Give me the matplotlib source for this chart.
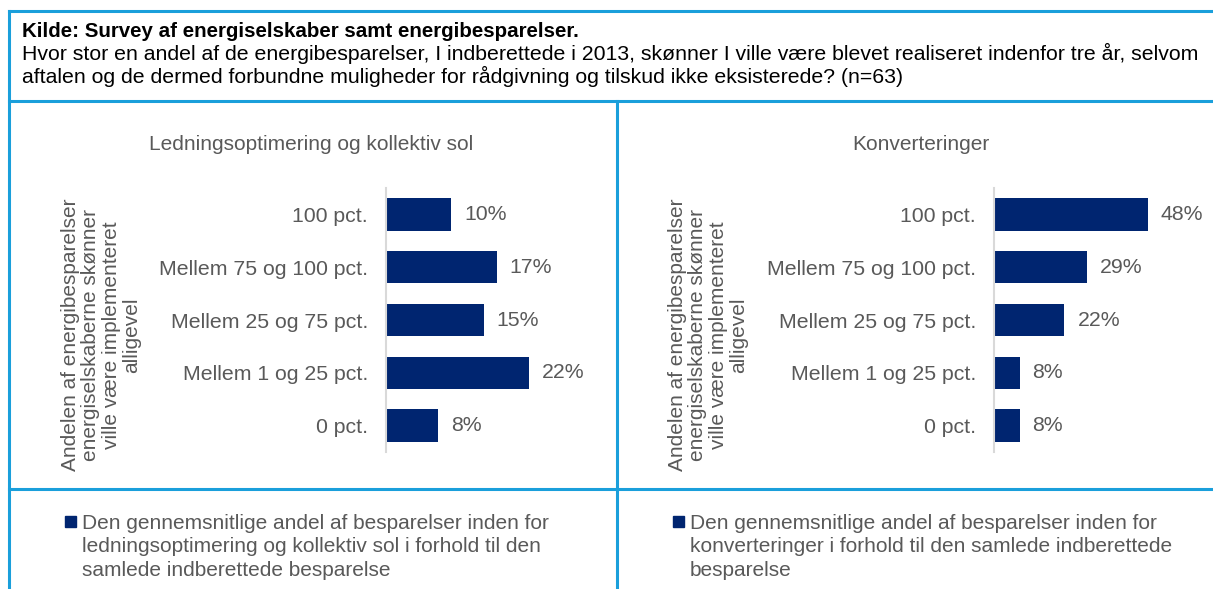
import matplotlib
matplotlib.use("Agg")
from matplotlib import pyplot as plt
from matplotlib.lines import Line2D
from matplotlib.patches import Rectangle

plt.rcParams['font.family'] = ['Liberation Sans', 'DejaVu Sans']

W, H = 1213, 589
BLUE = "#1a9fdb"
BAR = "#002570"
GREY = "#595959"

categories = ["100 pct.", "Mellem 75 og 100 pct.", "Mellem 25 og 75 pct.",
              "Mellem 1 og 25 pct.", "0 pct."]
ledning_values = [10, 17, 15, 22, 8]
konvert_values = [48, 29, 22, 8, 8]

header_lines = ["Hvor stor en andel af de energibesparelser, I indberettede i 2013, skønner I ville være blevet realiseret indenfor tre år, selvom",
                "aftalen og de dermed forbundne muligheder for rådgivning og tilskud ikke eksisterede? (n=63)"]
header_bold = "Kilde: Survey af energiselskaber samt energibesparelser."
ylabel = "Andelen af energibesparelser\nenergiselskaberne skønner\nville være implementeret\nalligevel"
titles = ["Ledningsoptimering og kollektiv sol", "Konverteringer"]
legends = ["Den gennemsnitlige andel af besparelser inden for\nledningsoptimering og kollektiv sol i forhold til den\nsamlede indberettede besparelse",
           "Den gennemsnitlige andel af besparelser inden for\nkonverteringer i forhold til den samlede indberettede\nbesparelse"]

fig = plt.figure(figsize=(W / 100, H / 100), dpi=100)


def fx(px):
    return px / W


def fy(py):
    return 1 - py / H


# frame lines
for (x0, y0, x1, y1) in [(9, 11, W, 11), (9, 101, W, 101), (9, 489, W, 489),
                         (9, 11, 9, H), (617, 101, 617, H)]:
    fig.add_artist(Line2D([fx(x0), fx(x1)], [fy(y0), fy(y1)], color=BLUE, lw=2.2,
                          transform=fig.transFigure))

fig.text(fx(22), fy(37), header_bold, fontsize=14.8, fontweight="bold", va="baseline", ha="left")
fig.text(fx(22), fy(60), header_lines[0], fontsize=15.3, va="baseline", ha="left")
fig.text(fx(22), fy(83), header_lines[1], fontsize=15.3, va="baseline", ha="left")

panels = [
    (ledning_values, 386, 6.5, 25, 311, 101, 65),
    (konvert_values, 994, 3.2, 60, 921, 708, 673),
]

for i, (vals, x0, scale, xmax, tx, lx, sx) in enumerate(panels):
    ax = fig.add_axes([fx(x0), fy(452), fx(scale * xmax), (452 - 188) / H])
    ypos = list(range(len(categories)))
    ax.barh(ypos, vals, height=0.61, color=BAR)
    ax.set_xlim(0, xmax)
    ax.set_ylim(len(categories) - 0.5, -0.5)
    ax.set_yticks(ypos)
    ax.set_yticklabels(categories, fontsize=15.3, color=GREY)
    ax.tick_params(axis="y", length=0, pad=13)
    ax.set_xticks([])
    for s in ["top", "right", "bottom"]:
        ax.spines[s].set_visible(False)
    ax.spines["left"].set_color("#d9d9d9")
    ax.spines["left"].set_linewidth(1.5)
    for y, v in zip(ypos, vals):
        ax.text(v + 13 / scale, y, f"{v}%", va="center", ha="left", fontsize=15.3, color=GREY)
    fig.text(fx(tx), fy(144), titles[i], fontsize=15, color=GREY, ha="center", va="center")
    fig.text(fx(lx), fy(335), ylabel, rotation=90, fontsize=15, color=GREY,
             ha="center", va="center", multialignment="center", linespacing=1.1)
    fig.add_artist(Rectangle((fx(sx), fy(527)), fx(11), 11 / H, color=BAR,
                             transform=fig.transFigure))
    fig.text(fx(sx + 17), fy(547), legends[i], fontsize=15, color=GREY, ha="left", va="center",
             linespacing=1.28)

fig.savefig("out.png", dpi=100)
